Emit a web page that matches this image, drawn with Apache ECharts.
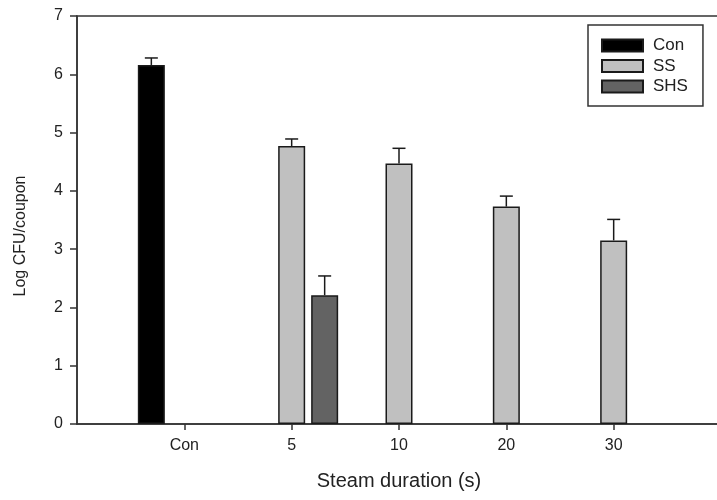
<!DOCTYPE html>
<html>
<head>
<meta charset="utf-8">
<script src="https://cdn.jsdelivr.net/npm/echarts@6/dist/echarts.min.js"></script>
<style>
  html, body { margin: 0; padding: 0; background: #fff; overflow: hidden; }
  /* The plot frame runs a few pixels past the right edge of the window */
  #chart { width: 724px; height: 500px; }
</style>
</head>
<body>
<div id="chart"></div>
<script>
// Steam treatment groups on the x axis
const categories = ['Con', '5', '10', '20', '30'];
const seriesNames = ['Con', 'SS', 'SHS'];

// Mean Log CFU/coupon per group (null = not measured in that group)
const conMeans = [6.16, null, null, null, null];
const ssMeans  = [null, 4.77, 4.47, 3.73, 3.15];
const shsMeans = [null, 2.21, null, null, null];

// Upper error (standard deviation) for each mean
const conErr = [0.12, null, null, null, null];
const ssErr  = [null, 0.12, 0.26, 0.18, 0.36];
const shsErr = [null, 0.33, null, null, null];

const yTicks = [0, 1, 2, 3, 4, 5, 6, 7];

const FONT = 'Liberation Sans, Arial, sans-serif';
const INK = '#222';
const BAR_W = 27;
const BAR_GAP = 0.222;

// The axis is padded with an empty slot on each side so the groups sit
// one full step in from the plot edges.
const axisData = [''].concat(categories, ['']);
const pad = arr => [null].concat(arr, [null]);

const means = [conMeans, ssMeans, shsMeans];
const errs = [conErr, ssErr, shsErr];
const fills = ['#000000', '#c0c0c0', '#636363'];

const barSeries = seriesNames.map((name, i) => ({
  name: name,
  type: 'bar',
  data: pad(means[i]),
  barWidth: BAR_W,
  barGap: (BAR_GAP * 100) + '%',
  itemStyle: { color: fills[i], borderColor: '#1a1a1a', borderWidth: 1.5 },
  emphasis: { disabled: true },
  z: 2
}));

// One error-bar series per bar series, shifted to that bar's slot
const errorSeries = seriesNames.map((name, i) => {
  const data = [];
  means[i].forEach((m, k) => {
    if (m != null && errs[i][k] != null) data.push([k + 1, m, errs[i][k]]);
  });
  const offset = (i - 1) * BAR_W * (1 + BAR_GAP);
  return {
    type: 'custom',
    name: name + ' error',
    data: data,
    encode: { x: 0, y: 1 },
    z: 3,
    silent: true,
    renderItem: function (params, api) {
      const base = api.coord([api.value(0), api.value(1)]);
      const top = api.coord([api.value(0), api.value(1) + api.value(2)]);
      const x = base[0] + offset;
      const half = 6.5;
      const style = { stroke: '#1a1a1a', lineWidth: 1.5, fill: null };
      return {
        type: 'group',
        children: [
          { type: 'line', shape: { x1: x, y1: base[1], x2: x, y2: top[1] }, style: style },
          { type: 'line', shape: { x1: x - half, y1: top[1], x2: x + half, y2: top[1] }, style: style }
        ]
      };
    }
  };
});

const chart = echarts.init(document.getElementById('chart'), null, { renderer: 'canvas' });
chart.setOption({
  animation: false,
  backgroundColor: '#ffffff',
  textStyle: { fontFamily: FONT },
  grid: {
    left: 77, top: 16, right: 0, bottom: 76,
    show: true, borderColor: '#333', borderWidth: 1.5, backgroundColor: 'transparent'
  },
  legend: {
    data: seriesNames.map(n => ({ name: n, icon: 'rect' })),
    orient: 'vertical',
    left: 588, top: 25,
    padding: [12, 15, 11, 13],
    itemWidth: 41, itemHeight: 12, itemGap: 3.5,
    borderColor: '#333', borderWidth: 1.5,
    backgroundColor: '#fff',
    selectedMode: false,
    textStyle: { fontFamily: FONT, fontSize: 17, color: INK, lineHeight: 17, padding: [0, 0, 0, 5] }
  },
  xAxis: {
    type: 'category',
    data: axisData,
    boundaryGap: false,
    name: 'Steam duration (s)',
    nameLocation: 'middle',
    nameGap: 47,
    nameTextStyle: { fontFamily: FONT, fontSize: 20, color: INK },
    axisLine: { show: true, lineStyle: { color: '#333', width: 1.5 } },
    axisTick: {
      show: true, length: 6, inside: false,
      interval: (idx, val) => val !== '',
      lineStyle: { color: '#333', width: 1.5 }
    },
    axisLabel: {
      interval: 0, margin: 14,
      fontFamily: FONT, fontSize: 16, color: INK
    },
    splitLine: { show: false }
  },
  yAxis: {
    type: 'value',
    min: yTicks[0], max: yTicks[yTicks.length - 1], interval: 1,
    axisLine: { show: true, lineStyle: { color: '#333', width: 1.5 } },
    axisTick: { show: true, length: 7, inside: false, lineStyle: { color: '#333', width: 1.5 } },
    axisLabel: { margin: 14, fontFamily: FONT, fontSize: 16, color: INK },
    splitLine: { show: false }
  },
  graphic: [{
    type: 'text',
    x: 21, y: 236,
    rotation: Math.PI / 2,
    style: {
      text: 'Log CFU/coupon',
      fontFamily: FONT, fontSize: 16, fill: INK,
      align: 'center', verticalAlign: 'middle'
    }
  }],
  series: barSeries.concat(errorSeries)
});
</script>
</body>
</html>
